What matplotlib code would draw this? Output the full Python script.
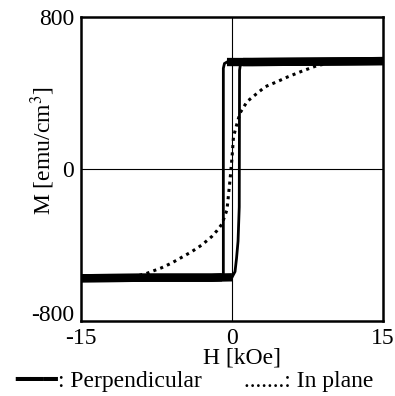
import numpy as np
import matplotlib
matplotlib.use("Agg")
import matplotlib.pyplot as plt

plt.rcParams["font.family"] = ["Liberation Serif", "DejaVu Serif"]
plt.rcParams["mathtext.fontset"] = "stix"

# perpendicular loop, descending branch (+15 -> -15 kOe)
h_desc = [15, 8, 2, -0.5, -0.75, -0.86, -0.86, -1.0, -2, -8, -15]
m_desc = [568, 565, 563, 563, 555, 530, -555, -570, -572, -572, -575]
# perpendicular loop, ascending branch (-15 -> +15 kOe)
h_asc = [-15, -8, -2, 0, 0.3, 0.45, 0.6, 0.72, 0.75, 0.85, 1.1, 2, 8, 15]
m_asc = [-575, -572, -572, -570, -540, -470, -380, -200, 520, 555, 563, 563, 565, 568]

# in-plane curve
h_inp = [-15, -10, -8.5, -7, -6, -5, -4, -3, -2, -1.5, -1, -0.5, -0.2, 0,
         0.15, 0.5, 0.8, 1.5, 2.3, 3.3, 4.5, 5.5, 7, 8.5, 10, 15]
m_inp = [-575, -570, -550, -520, -495, -465, -435, -400, -355, -325, -290, -215, -60, 60,
         170, 240, 295, 355, 390, 433, 460, 484, 516, 545, 560, 565]

x_ticks = [-15, 0, 15]
y_ticks = [-800, 0, 800]

fig = plt.figure(figsize=(3.95, 3.96), dpi=100)
ax = fig.add_axes([81 / 395, 1 - 321 / 396, 302 / 395, 304 / 396])

ax.axhline(0, color="black", lw=0.8, zorder=1)
ax.axvline(0, color="black", lw=0.8, zorder=1)

for h, m in [(h_desc, m_desc), (h_asc, m_asc)]:
    h = np.asarray(h)
    m = np.asarray(m)
    ax.plot(h, m, color="black", lw=2.0, solid_joinstyle="miter", zorder=3)
    # noisy saturation band looks much heavier than the switching edges
    for sign in (1, -1):
        sel = sign * m >= 560
        ax.plot(h[sel], m[sel], color="black", lw=6, solid_capstyle="butt", zorder=3)

ax.plot(h_inp, m_inp, color="black", lw=2.2, linestyle=(0, (1, 1.4)), zorder=2)

ax.set_xlim(-15, 15)
ax.set_ylim(-800, 800)
ax.set_xticks(x_ticks)
ax.set_yticks(y_ticks)
ax.set_xticklabels([str(v) for v in x_ticks])
ax.set_yticklabels([str(v) for v in y_ticks])
ax.tick_params(length=0, labelsize=17, pad=5)
ax.get_yticklabels()[0].set_va("baseline")
for side in ax.spines.values():
    side.set_linewidth(1.8)

ax.set_ylabel(r"M [emu/cm$^{3}$]", fontsize=17)
ax.yaxis.set_label_coords(-0.078, 0.56)
fig.text(242 / 395, 1 - 358 / 396, "H [kOe]", fontsize=17, ha="center", va="center")
fig.text(58 / 395, 1 - 380 / 396, "\u2501\u2501\u2501", fontsize=17, family=["DejaVu Sans"],
         ha="right", va="center")
fig.text(58 / 395, 1 - 381 / 396, ": Perpendicular", fontsize=17, ha="left", va="center")
fig.text(373 / 395, 1 - 381 / 396, ".......: In plane", fontsize=17, ha="right", va="center")

fig.savefig("out.png", dpi=100)
